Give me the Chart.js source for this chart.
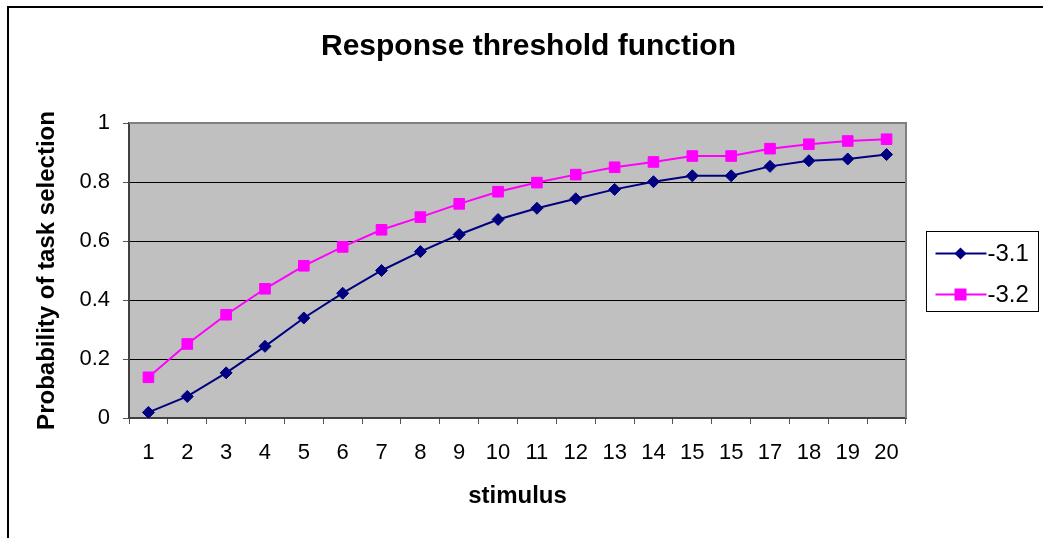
<!DOCTYPE html>
<html>
<head>
<meta charset="utf-8">
<script src="https://cdn.jsdelivr.net/npm/chart.js@4/dist/chart.umd.min.js"></script>
<style>
  body { margin: 0; background: #fff; }
  canvas { display: block; }
</style>
</head>
<body>
<canvas id="chart" width="1043" height="538"></canvas>
<script>
// stimulus labels (the "15" twice is in the original chart)
const stimulus = ['1', '2', '3', '4', '5', '6', '7', '8', '9', '10',
  '11', '12', '13', '14', '15', '15', '17', '18', '19', '20'];
const seriesNames = ['-3.1', '-3.2'];
const probA = [0.019, 0.073, 0.153, 0.243, 0.339, 0.423, 0.500, 0.564, 0.622, 0.673,
  0.711, 0.743, 0.775, 0.801, 0.821, 0.821, 0.853, 0.872, 0.878, 0.893];
const probB = [0.138, 0.251, 0.350, 0.438, 0.516, 0.580, 0.638, 0.681, 0.726, 0.767,
  0.798, 0.825, 0.850, 0.868, 0.888, 0.888, 0.913, 0.928, 0.939, 0.945];

const FONT = '"Liberation Sans", Arial, sans-serif';
Chart.defaults.font.family = FONT;
Chart.defaults.color = '#000';

function marker(ctx, style, x, y, color) {
  ctx.fillStyle = color;
  ctx.beginPath();
  if (style === 'rectRot') {
    ctx.moveTo(x, y - 6); ctx.lineTo(x + 6, y); ctx.lineTo(x, y + 6); ctx.lineTo(x - 6, y);
  } else {
    ctx.rect(x - 6, y - 6, 12, 12);
  }
  ctx.closePath();
  ctx.fill();
}

// legend drawn as its own layout box on the right side
const sideLegend = {
  id: 'sideLegend',
  beforeInit(chart) {
    const box = {
      position: 'right', weight: 0, fullSize: false, options: {},
      left: 0, top: 0, right: 0, bottom: 0, width: 0, height: 0,
      isHorizontal: () => false,
      update(maxW, maxH) { this.width = 137; this.height = maxH; },
      draw() {
        const ctx = chart.ctx;
        const bx = Math.round(this.left + 20) + 0.5;
        const cy = (this.top + this.bottom) / 2;
        const by = Math.round(cy - 40) + 0.5;
        ctx.save();
        ctx.fillStyle = '#fff';
        ctx.fillRect(bx, by, 112, 80);
        ctx.strokeStyle = '#000';
        ctx.lineWidth = 1;
        ctx.strokeRect(bx, by, 112, 80);
        chart.data.datasets.forEach((ds, i) => {
          const y = cy - 17 + i * 41;
          ctx.strokeStyle = ds.borderColor;
          ctx.lineWidth = 2;
          ctx.beginPath();
          ctx.moveTo(bx + 9, y);
          ctx.lineTo(bx + 60, y);
          ctx.stroke();
          marker(ctx, ds.pointStyle, bx + 34, y, ds.borderColor);
          ctx.fillStyle = '#000';
          ctx.font = '24px ' + FONT;
          ctx.textAlign = 'left';
          ctx.textBaseline = 'middle';
          ctx.fillText(ds.label, bx + 61, y + 1);
        });
        ctx.restore();
      }
    };
    Chart.layouts.addBox(chart, box);
  }
};

const plotBackground = {
  id: 'plotBackground',
  beforeDraw(chart) {
    const { ctx, chartArea: a } = chart;
    ctx.save();
    ctx.fillStyle = '#fff';
    ctx.fillRect(0, 0, chart.width, chart.height);
    ctx.fillStyle = '#c0c0c0';
    ctx.fillRect(a.left, a.top, a.right - a.left, a.bottom - a.top);
    ctx.strokeStyle = '#000';
    ctx.lineWidth = 2;
    ctx.strokeRect(8, 7, 2000, 2000);
    ctx.restore();
  },
  beforeDatasetsDraw(chart) {
    const { ctx, chartArea: a } = chart;
    ctx.save();
    ctx.strokeStyle = '#808080';
    ctx.lineWidth = 2;
    ctx.beginPath();
    ctx.moveTo(a.left, a.top);
    ctx.lineTo(a.right, a.top);
    ctx.lineTo(a.right, a.bottom);
    ctx.stroke();
    ctx.restore();
  }
};

new Chart(document.getElementById('chart'), {
  type: 'line',
  data: {
    labels: stimulus,
    datasets: [{
      label: seriesNames[0],
      data: probA,
      borderColor: '#000080',
      backgroundColor: '#000080',
      borderWidth: 2,
      pointStyle: 'rectRot',
      pointRadius: 6,
      pointBorderWidth: 1,
      tension: 0
    }, {
      label: seriesNames[1],
      data: probB,
      borderColor: '#ff00ff',
      backgroundColor: '#ff00ff',
      borderWidth: 2,
      pointStyle: 'rect',
      pointRadius: 7.5,
      pointBorderWidth: 1,
      tension: 0
    }]
  },
  options: {
    responsive: false,
    animation: false,
    layout: { padding: { left: 14, right: 0, top: 0, bottom: 0 } },
    plugins: {
      legend: { display: false },
      tooltip: { enabled: false },
      title: {
        display: true,
        text: 'Response threshold function',
        font: { size: 30, weight: 'bold' },
        color: '#000',
        padding: { top: 29, bottom: 58 }
      }
    },
    scales: {
      x: {
        offset: true,
        afterFit(scale) { scale.height = 120; },
        grid: {
          offset: true,
          drawOnChartArea: false,
          drawTicks: true,
          tickLength: 6,
          tickColor: '#555'
        },
        border: { color: '#404040', width: 2 },
        ticks: { font: { size: 22 }, color: '#000', padding: 16, autoSkip: false, maxRotation: 0 },
        title: {
          display: true,
          text: 'stimulus',
          font: { size: 24, weight: 'bold' },
          color: '#000',
          padding: { top: 0, bottom: 27 }
        }
      },
      y: {
        min: 0,
        max: 1,
        afterFit(scale) { scale.width = 115; },
        grid: {
          color: (c) => (c.tick && c.tick.value === 1 ? '#808080' : '#000'),
          lineWidth: 1,
          tickLength: 6,
          tickColor: '#555'
        },
        border: { color: '#404040', width: 2 },
        ticks: {
          stepSize: 0.2,
          font: { size: 22 },
          color: '#000',
          padding: 13,
          callback: (v) => String(Number(v.toFixed(1)))
        },
        title: {
          display: true,
          text: 'Probability of task selection',
          font: { size: 24, weight: 'bold' },
          color: '#000',
          padding: { top: 19, bottom: 0 }
        }
      }
    }
  },
  plugins: [plotBackground, sideLegend]
});
</script>
</body>
</html>
